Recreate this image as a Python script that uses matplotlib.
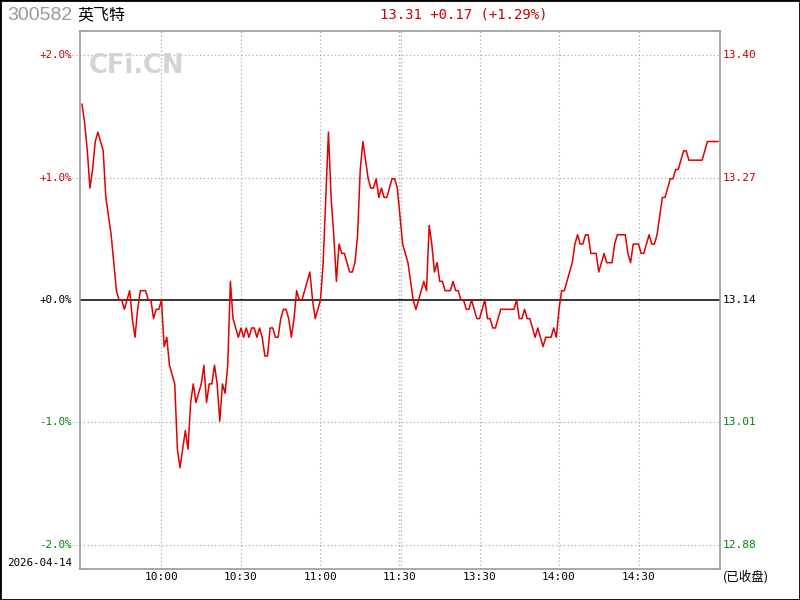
import matplotlib
matplotlib.use("Agg")
import matplotlib.pyplot as plt
import matplotlib.transforms as mtransforms
from matplotlib.patches import Rectangle

# 昨收价
PREV_CLOSE = 13.14
STOCK_CODE = "300582"
STOCK_NAME = "英飞特"
TRADE_DATE = "2026-04-14"
HEADER = "13.31 +0.17 (+1.29%)"

# 每分钟价格 (9:30 ~ 11:30, 13:01 ~ 15:00)
prices = [
    13.35, 13.33, 13.30, 13.26, 13.28, 13.31, 13.32, 13.31, 13.30, 13.25,
    13.23, 13.21, 13.18, 13.15, 13.14, 13.14, 13.13, 13.14, 13.15, 13.12,
    13.10, 13.13, 13.15, 13.15, 13.15, 13.14, 13.14, 13.12, 13.13, 13.13,
    13.14, 13.09, 13.10, 13.07, 13.06, 13.05, 12.98, 12.96, 12.98, 13.00,
    12.98, 13.03, 13.05, 13.03, 13.04, 13.05, 13.07, 13.03, 13.05, 13.05,
    13.07, 13.05, 13.01, 13.05, 13.04, 13.07, 13.16, 13.12, 13.11, 13.10,
    13.11, 13.10, 13.11, 13.10, 13.11, 13.11, 13.10, 13.11, 13.10, 13.08,
    13.08, 13.11, 13.11, 13.10, 13.10, 13.12, 13.13, 13.13, 13.12, 13.10,
    13.12, 13.15, 13.14, 13.14, 13.15, 13.16, 13.17, 13.14, 13.12, 13.13,
    13.14, 13.18, 13.25, 13.32, 13.25, 13.21, 13.16, 13.20, 13.19, 13.19,
    13.18, 13.17, 13.17, 13.18, 13.21, 13.28, 13.31, 13.29, 13.27, 13.26,
    13.26, 13.27, 13.25, 13.26, 13.25, 13.25, 13.26, 13.27, 13.27, 13.26,
    13.23, 13.20, 13.19, 13.18, 13.16, 13.14, 13.13, 13.14, 13.15, 13.16,
    13.15, 13.22, 13.20, 13.17, 13.18, 13.16, 13.16, 13.15, 13.15, 13.15,
    13.16, 13.15, 13.15, 13.14, 13.14, 13.13, 13.13, 13.14, 13.13, 13.12,
    13.12, 13.13, 13.14, 13.12, 13.12, 13.11, 13.11, 13.12, 13.13, 13.13,
    13.13, 13.13, 13.13, 13.13, 13.14, 13.12, 13.12, 13.13, 13.12, 13.12,
    13.11, 13.10, 13.11, 13.10, 13.09, 13.10, 13.10, 13.10, 13.11, 13.10,
    13.13, 13.15, 13.15, 13.16, 13.17, 13.18, 13.20, 13.21, 13.20, 13.20,
    13.21, 13.21, 13.19, 13.19, 13.19, 13.17, 13.18, 13.19, 13.18, 13.18,
    13.18, 13.20, 13.21, 13.21, 13.21, 13.21, 13.19, 13.18, 13.20, 13.20,
    13.20, 13.19, 13.19, 13.20, 13.21, 13.20, 13.20, 13.21, 13.23, 13.25,
    13.25, 13.26, 13.27, 13.27, 13.28, 13.28, 13.29, 13.30, 13.30, 13.29,
    13.29, 13.29, 13.29, 13.29, 13.29, 13.30, 13.31, 13.31, 13.31, 13.31,
    13.31,
]

# 时间轴刻度 (分钟序号, 标签)
time_ticks = [30, 60, 90, 120, 150, 180, 210]
time_labels = ["10:00", "10:30", "11:00", "11:30", "13:30", "14:00", "14:30"]

pct_ticks = [2.0, 1.0, 0.0, -1.0, -2.0]
pct_labels = ["+2.0%", "+1.0%", "+0.0%", "-1.0%", "-2.0%"]
price_labels = ["13.40", "13.27", "13.14", "13.01", "12.88"]

RED = "#cc0000"
GREEN = "#008800"
MONO = "DejaVu Sans Mono"
CJK = ["Noto Sans CJK SC", "DejaVu Sans"]


def label_color(v):
    if v > 0:
        return RED
    if v < 0:
        return GREEN
    return "black"


minutes = list(range(len(prices)))
pct = [(p - PREV_CLOSE) / PREV_CLOSE * 100 for p in prices]

fig = plt.figure(figsize=(8, 6), dpi=100)
ax = fig.add_axes([80 / 800, 31 / 600, 640 / 800, 538 / 600])
ax.set_xlim(-0.75, 240.75)
ax.set_ylim(-2.196, 2.196)
ax.set_xticks([])
ax.set_yticks([])
for s in ax.spines.values():
    s.set_color("#999999")
    s.set_linewidth(1.2)

# 网格
dot = (0, (1, 2))
for v in [2.0, 1.0, -1.0, -2.0]:
    ax.plot([-3.8, 240.2], [v, v], color="#aaaaaa", lw=0.9, ls=dot, clip_on=False)
for t in time_ticks:
    if t == 120:
        for dt in (-0.35, 0.35):
            ax.axvline(t + dt, color="#aaaaaa", lw=0.9, ls=dot)
    else:
        ax.axvline(t, color="#aaaaaa", lw=0.9, ls=dot)
ax.axhline(0, color="black", lw=1.1)

ax.plot(minutes, pct, color="#e00000", lw=1.1)

# 坐标标签
left_tr = mtransforms.blended_transform_factory(ax.transAxes, ax.transData)
for v, lp, lr in zip(pct_ticks, pct_labels, price_labels):
    c = label_color(v)
    ax.text(-0.0125, v, lp, transform=left_tr, ha="right", va="center",
            color=c, fontsize=7.8, family=MONO)
    ax.text(1.004, v, lr, transform=left_tr, ha="left", va="center",
            color=c, fontsize=8, family=MONO)

bottom_tr = mtransforms.blended_transform_factory(ax.transData, ax.transAxes)
for t, lbl in zip(time_ticks, time_labels):
    ax.text(t, -0.0149, lbl, transform=bottom_tr, ha="center", va="center",
            fontsize=8, family=MONO)
ax.text(1.004, -0.0149, "(已收盘)", transform=ax.transAxes, ha="left",
        va="center", fontsize=9, family=CJK)

fig.text(7 / 800, 1 - 563 / 600, TRADE_DATE, ha="left", va="center",
         fontsize=7.8, family=MONO)

# 标题
fig.text(7 / 800, 1 - 16 / 600, STOCK_CODE, ha="left", va="center",
         fontsize=14, color="#999999", family="Liberation Sans")
fig.text(77 / 800, 1 - 15 / 600, STOCK_NAME, ha="left", va="center",
         fontsize=11.5, family=CJK)
fig.text(464 / 800, 1 - 15 / 600, HEADER, ha="center", va="center",
         fontsize=10, color=RED, family=MONO)

# 水印
fig.text(89 / 800, 1 - 66 / 600, "CFi.CN", ha="left", va="center",
         fontsize=18.5, fontweight="bold", color="#d4d4d4",
         family="DejaVu Sans")

fig.patches.append(Rectangle((0, 0), 1, 1, transform=fig.transFigure,
                             fill=False, edgecolor="black", lw=2))

fig.savefig("out.png", dpi=100)
plt.close(fig)
